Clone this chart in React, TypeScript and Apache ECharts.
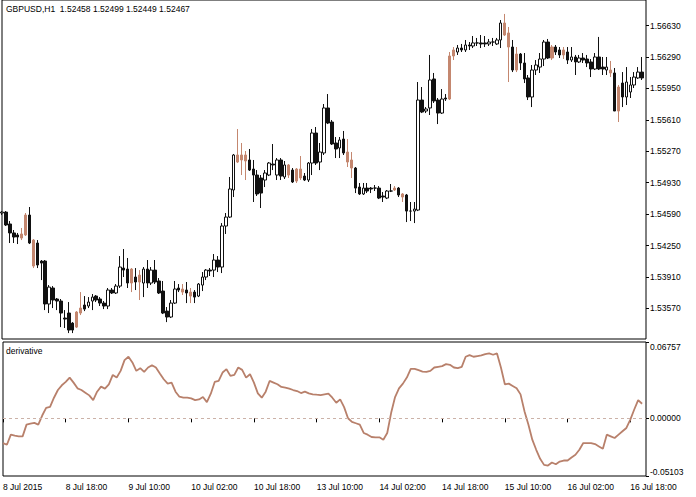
import React, { useEffect, useRef } from 'react';
import * as echarts from 'echarts';

const symbolTitle = 'GBPUSD,H1  1.52458 1.52499 1.52449 1.52467';
const indicatorName = 'derivative';
const timeTicks = ['8 Jul 2015', '8 Jul 18:00', '9 Jul 10:00', '10 Jul 02:00', '10 Jul 18:00', '13 Jul 10:00', '14 Jul 02:00', '14 Jul 18:00', '15 Jul 10:00', '16 Jul 02:00', '16 Jul 18:00'];
const priceTicks = [1.5357, 1.5391, 1.5425, 1.5459, 1.5493, 1.5527, 1.5561, 1.5595, 1.5629, 1.5663];
const derivTicks = [-0.05103, 0, 0.06757];
const slotCount = 165;

// [open, close, low, high]
const ohlc: number[][] = [
  [1.54602, 1.54612, 1.54580, 1.54623], [1.54612, 1.54472, 1.54461, 1.54623], [1.54483, 1.54386, 1.54277, 1.54515], [1.54386, 1.54342, 1.54277, 1.54418],
  [1.54364, 1.54342, 1.54266, 1.54386], [1.54331, 1.54375, 1.54309, 1.54440], [1.54364, 1.54580, 1.54353, 1.54602], [1.54580, 1.54277, 1.54266, 1.54667],
  [1.54309, 1.54028, 1.54006, 1.54320], [1.54277, 1.54039, 1.54006, 1.54309], [1.54082, 1.54060, 1.53876, 1.54093], [1.54082, 1.53617, 1.53551, 1.54093],
  [1.53617, 1.53800, 1.53519, 1.53822], [1.53790, 1.53660, 1.53573, 1.53811], [1.53671, 1.53649, 1.53551, 1.53682], [1.53649, 1.53519, 1.53367, 1.53671],
  [1.53465, 1.53454, 1.53357, 1.53551], [1.53519, 1.53335, 1.53302, 1.53638], [1.53410, 1.53335, 1.53302, 1.53421], [1.53367, 1.53530, 1.53357, 1.53540],
  [1.53519, 1.53573, 1.53497, 1.53746], [1.53606, 1.53562, 1.53540, 1.53703], [1.53595, 1.53638, 1.53573, 1.53692], [1.53649, 1.53692, 1.53551, 1.53725],
  [1.53703, 1.53660, 1.53638, 1.53714], [1.53671, 1.53627, 1.53595, 1.53692], [1.53627, 1.53595, 1.53562, 1.53649], [1.53595, 1.53768, 1.53562, 1.53790],
  [1.53768, 1.53736, 1.53725, 1.53790], [1.53736, 1.53811, 1.53725, 1.53833], [1.53811, 1.54017, 1.53790, 1.54136], [1.54006, 1.53984, 1.53909, 1.54212],
  [1.53995, 1.53844, 1.53790, 1.54115], [1.53995, 1.53844, 1.53746, 1.54006], [1.53909, 1.53855, 1.53768, 1.54006], [1.53930, 1.53855, 1.53660, 1.53984],
  [1.53844, 1.53995, 1.53692, 1.54017], [1.53995, 1.53844, 1.53790, 1.54093], [1.53844, 1.53984, 1.53822, 1.54017], [1.53984, 1.53855, 1.53833, 1.54093],
  [1.53866, 1.53736, 1.53725, 1.53898], [1.53757, 1.53519, 1.53508, 1.53866], [1.53540, 1.53476, 1.53421, 1.53584], [1.53476, 1.53627, 1.53465, 1.53660],
  [1.53627, 1.53779, 1.53617, 1.53866], [1.53790, 1.53768, 1.53746, 1.53833], [1.53779, 1.53746, 1.53714, 1.53833], [1.53768, 1.53736, 1.53627, 1.53855],
  [1.53746, 1.53703, 1.53627, 1.53790], [1.53746, 1.53692, 1.53627, 1.53768], [1.53703, 1.53833, 1.53692, 1.53844], [1.53822, 1.53909, 1.53757, 1.53963],
  [1.53909, 1.53984, 1.53876, 1.53995], [1.53984, 1.53974, 1.53920, 1.54006], [1.53984, 1.54093, 1.53909, 1.54158], [1.54093, 1.54017, 1.53963, 1.54136],
  [1.54017, 1.54461, 1.53952, 1.54493], [1.54461, 1.54558, 1.54375, 1.54602], [1.54558, 1.54862, 1.54548, 1.54992], [1.54851, 1.55230, 1.54775, 1.55241],
  [1.55230, 1.55154, 1.55143, 1.55511], [1.55230, 1.55176, 1.55013, 1.55360], [1.55230, 1.55165, 1.54959, 1.55273], [1.55176, 1.55067, 1.55057, 1.55295],
  [1.55078, 1.55013, 1.54721, 1.55176], [1.55013, 1.54808, 1.54786, 1.55067], [1.54981, 1.54818, 1.54656, 1.55013], [1.54959, 1.55035, 1.54883, 1.55067],
  [1.55013, 1.55143, 1.55002, 1.55154], [1.55132, 1.55122, 1.55067, 1.55349], [1.55013, 1.55176, 1.54959, 1.55197], [1.55176, 1.55002, 1.54959, 1.55197],
  [1.54992, 1.55122, 1.54970, 1.55165], [1.55122, 1.55013, 1.54981, 1.55132], [1.55067, 1.54938, 1.54927, 1.55089], [1.55078, 1.54948, 1.54927, 1.55089],
  [1.55078, 1.54981, 1.54959, 1.55219], [1.55002, 1.54959, 1.54948, 1.55035], [1.54959, 1.55143, 1.54938, 1.55154], [1.55143, 1.55468, 1.55013, 1.55511],
  [1.55468, 1.55143, 1.55122, 1.55533], [1.55154, 1.55262, 1.55067, 1.55360], [1.55252, 1.55739, 1.55230, 1.55782], [1.55739, 1.55576, 1.55565, 1.55890],
  [1.55587, 1.55349, 1.55338, 1.55609], [1.55360, 1.55295, 1.55197, 1.55425], [1.55306, 1.55392, 1.55197, 1.55425], [1.55403, 1.55252, 1.55230, 1.55490],
  [1.55262, 1.55154, 1.55100, 1.55403], [1.55176, 1.55089, 1.54981, 1.55262], [1.55089, 1.54872, 1.54818, 1.55100], [1.54883, 1.54808, 1.54797, 1.54927],
  [1.54808, 1.54872, 1.54797, 1.54927], [1.54872, 1.54840, 1.54818, 1.54927], [1.54872, 1.54862, 1.54818, 1.54883], [1.54872, 1.54872, 1.54840, 1.54905],
  [1.54872, 1.54764, 1.54753, 1.54894], [1.54786, 1.54775, 1.54721, 1.54829], [1.54764, 1.54840, 1.54753, 1.54851], [1.54840, 1.54840, 1.54829, 1.54916],
  [1.54851, 1.54872, 1.54840, 1.54894], [1.54872, 1.54797, 1.54775, 1.54883], [1.54808, 1.54775, 1.54721, 1.54818], [1.54797, 1.54623, 1.54504, 1.54808],
  [1.54623, 1.54623, 1.54515, 1.54721], [1.54623, 1.54645, 1.54493, 1.54721], [1.54634, 1.55825, 1.54623, 1.56020], [1.55825, 1.55695, 1.55684, 1.55966],
  [1.55706, 1.55728, 1.55684, 1.55749], [1.55739, 1.56042, 1.55663, 1.56313], [1.56053, 1.55815, 1.55793, 1.56118], [1.55825, 1.55684, 1.55565, 1.55847],
  [1.55684, 1.55836, 1.55674, 1.55944], [1.55847, 1.55836, 1.55815, 1.55890], [1.55836, 1.56302, 1.55825, 1.56345], [1.56302, 1.56367, 1.56258, 1.56399],
  [1.56345, 1.56388, 1.56313, 1.56421], [1.56388, 1.56367, 1.56345, 1.56432], [1.56367, 1.56421, 1.56345, 1.56475], [1.56421, 1.56410, 1.56367, 1.56453],
  [1.56410, 1.56443, 1.56388, 1.56518], [1.56443, 1.56443, 1.56410, 1.56497], [1.56443, 1.56432, 1.56388, 1.56529], [1.56443, 1.56432, 1.56399, 1.56518],
  [1.56432, 1.56453, 1.56410, 1.56486], [1.56453, 1.56453, 1.56410, 1.56497], [1.56432, 1.56475, 1.56421, 1.56497], [1.56475, 1.56659, 1.56388, 1.56691],
  [1.56659, 1.56529, 1.56518, 1.56757], [1.56551, 1.56399, 1.56020, 1.56616], [1.56399, 1.56150, 1.56128, 1.56475], [1.56323, 1.56150, 1.56128, 1.56399],
  [1.56323, 1.56226, 1.56150, 1.56334], [1.56226, 1.56053, 1.56009, 1.56334], [1.56064, 1.55858, 1.55825, 1.56096], [1.55858, 1.56150, 1.55749, 1.56204],
  [1.56150, 1.56204, 1.56096, 1.56258], [1.56182, 1.56269, 1.56118, 1.56334], [1.56269, 1.56453, 1.56193, 1.56475], [1.56453, 1.56280, 1.56269, 1.56486],
  [1.56280, 1.56399, 1.56258, 1.56421], [1.56399, 1.56345, 1.56313, 1.56421], [1.56367, 1.56313, 1.56280, 1.56399], [1.56367, 1.56313, 1.56269, 1.56399],
  [1.56345, 1.56258, 1.56215, 1.56399], [1.56258, 1.56291, 1.56237, 1.56399], [1.56291, 1.56237, 1.56096, 1.56313], [1.56237, 1.56280, 1.56226, 1.56313],
  [1.56280, 1.56258, 1.56226, 1.56334], [1.56269, 1.56226, 1.56182, 1.56313], [1.56237, 1.56161, 1.56074, 1.56269], [1.56161, 1.56291, 1.56150, 1.56334],
  [1.56291, 1.56161, 1.56150, 1.56508], [1.56182, 1.56161, 1.56096, 1.56291], [1.56150, 1.56182, 1.56096, 1.56291], [1.56150, 1.56118, 1.56074, 1.56248],
  [1.56118, 1.55706, 1.55706, 1.56172], [1.55706, 1.55966, 1.55587, 1.55988], [1.56009, 1.55858, 1.55749, 1.56128], [1.55858, 1.56020, 1.55771, 1.56182],
  [1.55912, 1.55988, 1.55847, 1.56074], [1.55988, 1.56074, 1.55955, 1.56128], [1.56064, 1.56128, 1.56053, 1.56182], [1.56128, 1.56064, 1.56042, 1.56291],
];

// bars drawn in the tinted (brown) colour
const tintedBars = [5, 6, 8, 19, 20, 33, 35, 46, 48, 60, 61, 62, 73, 75, 76, 88, 89, 100, 102, 114, 115, 128, 129, 131, 140, 143, 155, 157];

const derivative = [
  -0.02187, -0.02336, -0.01444, -0.01534, -0.01593, -0.01593, -0.00553, -0.00464, -0.00404, -0.00553,
  0.00250, 0.00933, 0.01022, 0.01825, 0.02508, 0.02924, 0.03222, 0.03608, 0.03162, 0.02657,
  0.02508, 0.02271, 0.02033, 0.01617, 0.02360, 0.02806, 0.02627, 0.03014, 0.03846, 0.03608,
  0.04201, 0.05153, 0.05450, 0.04945, 0.04201, 0.04440, 0.04113, 0.04500, 0.04708, 0.04500,
  0.03965, 0.03459, 0.03073, 0.03162, 0.02360, 0.01914, 0.01825, 0.01825, 0.01765, 0.01617,
  0.01676, 0.01884, 0.01438, 0.02184, 0.03222, 0.03311, 0.04054, 0.04351, 0.03757, 0.03846,
  0.04500, 0.04291, 0.03608, 0.03905, 0.03162, 0.02211, 0.01825, 0.02360, 0.03311, 0.03162,
  0.03014, 0.02776, 0.02716, 0.02627, 0.02508, 0.02419, 0.02241, 0.02360, 0.02211, 0.02122,
  0.02092, 0.02063, 0.02122, 0.02181, 0.01825, 0.01379, 0.01676, 0.00993, 0.00010, -0.00315,
  -0.00434, -0.00553, -0.01296, -0.01444, -0.01652, -0.01682, -0.01682, -0.01890, -0.01296, 0.00487,
  0.01884, 0.02657, 0.03073, 0.03608, 0.04381, 0.04381, 0.04262, 0.04143, 0.04113, 0.04202,
  0.04500, 0.04559, 0.04618, 0.04797, 0.04737, 0.04500, 0.04440, 0.04559, 0.05451, 0.05599,
  0.05451, 0.05510, 0.05570, 0.05688, 0.05748, 0.05629, 0.05748, 0.04500, 0.03014, 0.03073,
  0.02865, 0.02657, 0.02122, 0.00636, -0.00553, -0.01890, -0.02782, -0.03584, -0.04119, -0.04179,
  -0.03911, -0.04060, -0.03822, -0.03733, -0.03733, -0.03465, -0.03228, -0.02782, -0.02187, -0.02187,
  -0.02187, -0.02277, -0.02485, -0.02693, -0.01444, -0.01593, -0.01742, -0.01444, -0.01147, -0.00850,
  -0.00107, 0.00785, 0.01617, 0.01290,
];

const FONT = 'Liberation Sans';
const TEXT = '#000000';
const TINT = '#c4876f';
const LINE = '#b8806b';

export default function App() {
  const ref = useRef<HTMLDivElement>(null);

  useEffect(() => {
    const chart = echarts.init(ref.current!, null, { renderer: 'svg' });
    const categories = Array.from({ length: slotCount }, (_, i) => (i % 16 === 0 && timeTicks[i / 16]) ? timeTicks[i / 16] : '');
    const candleData = ohlc.map((v, i) =>
      tintedBars.includes(i)
        ? { value: v, itemStyle: { color: TINT, color0: TINT, borderColor: TINT, borderColor0: TINT } }
        : { value: v }
    );
    const priceMin = 1.53238;
    const priceMax = 1.56908;

    chart.setOption({
      animation: false,
      backgroundColor: '#ffffff',
      textStyle: { fontFamily: FONT },
      grid: [
        { left: 2, top: 0, width: 644, height: 339, show: true, borderColor: '#000', borderWidth: 1, backgroundColor: 'transparent' },
        { left: 2, top: 342, width: 644, height: 134, show: true, borderColor: '#000', borderWidth: 1, backgroundColor: 'transparent' },
      ],
      xAxis: [
        {
          type: 'category', gridIndex: 0, data: categories, boundaryGap: false,
          axisLine: { show: false }, axisTick: { show: false }, axisLabel: { show: false }, splitLine: { show: false },
        },
        {
          type: 'category', gridIndex: 1, data: categories, boundaryGap: false,
          axisLine: { show: false },
          axisTick: { show: true, interval: 15, length: 4, lineStyle: { color: '#000', width: 1 } },
          axisLabel: { interval: 15, align: 'left', margin: 6, color: TEXT, fontSize: 8.5, fontFamily: FONT },
          splitLine: { show: false },
        },
      ],
      yAxis: [
        {
          type: 'value', gridIndex: 0, position: 'right', min: priceMin, max: priceMax, scale: true,
          axisLine: { show: false },
          axisTick: { show: true, length: 3, customValues: priceTicks, lineStyle: { color: '#000' } },
          axisLabel: { customValues: priceTicks, margin: 4, color: TEXT, fontSize: 8.5, fontFamily: FONT, formatter: (v: number) => v.toFixed(5) },
          splitLine: { show: false },
        },
        {
          type: 'value', gridIndex: 1, position: 'right', min: derivTicks[0], max: derivTicks[2],
          axisLine: { show: false },
          axisTick: { show: true, length: 3, customValues: derivTicks, lineStyle: { color: '#000' } },
          axisLabel: {
            customValues: derivTicks, margin: 4, color: TEXT, fontSize: 8.5, fontFamily: FONT,
            formatter: (v: number) => v.toFixed(5),
            verticalAlignMaxLabel: 'top', verticalAlignMinLabel: 'bottom',
          },
          splitLine: { show: false },
        },
      ],
      series: [
        {
          type: 'candlestick', xAxisIndex: 0, yAxisIndex: 0, data: candleData, barWidth: 3,
          itemStyle: { color: '#ffffff', color0: '#111111', borderColor: '#111111', borderColor0: '#111111', borderWidth: 1 },
          silent: true,
        },
        {
          type: 'line', xAxisIndex: 1, yAxisIndex: 1, data: derivative, showSymbol: false, silent: true,
          lineStyle: { color: LINE, width: 1.8 },
          markLine: {
            silent: true, symbol: ['none', 'none'], label: { show: false },
            lineStyle: { type: [3, 3], color: '#cbb2a8', width: 1 },
            data: [{ yAxis: 0 }],
          },
        },
      ],
      graphic: [
        { type: 'text', left: 6, top: 4, style: { text: symbolTitle, fill: TEXT, font: `8.5px "${FONT}"` } },
        { type: 'text', left: 6, top: 346, style: { text: indicatorName, fill: TEXT, font: `8.5px "${FONT}"` } },
      ],
    });
    return () => chart.dispose();
  }, []);

  return <div ref={ref} style={{ position: 'fixed', left: 0, top: 0, width: 696, height: 497, background: '#fff' }} />;
}
